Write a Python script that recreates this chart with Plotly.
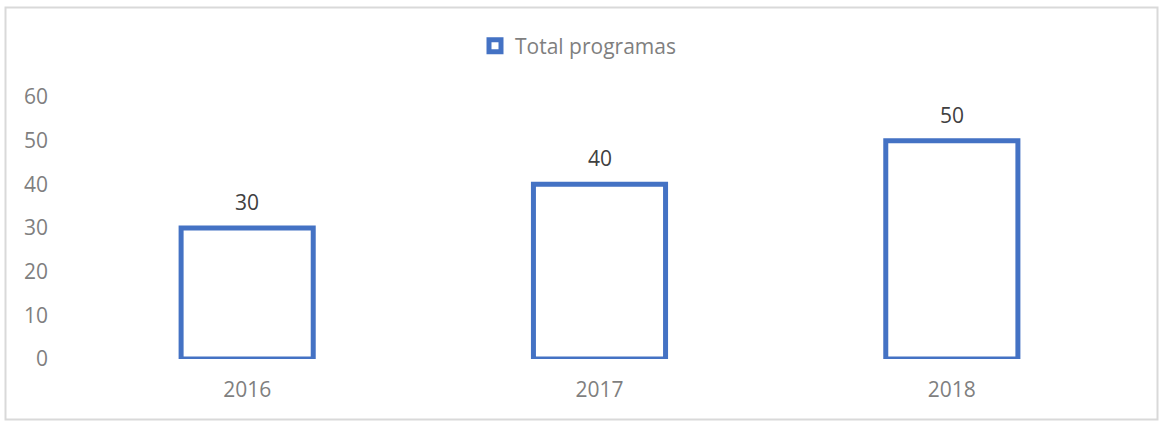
import plotly.graph_objects as go

categories = ["2016", "2017", "2018"]
values = [30, 40, 50]
series_name = "Total programas"

W, H = 1159, 421
L, R, T, B = 71, 31, 97, 62
pw, ph = W - L - R, H - T - B

def px_x(p):
    return (p - L) / pw

def px_y(p):
    return (H - B - p) / ph

FS = 21
GREY = "#7f7f7f"

fig = go.Figure()
fig.add_trace(go.Bar(
    x=categories, y=values, name=series_name,
    marker=dict(color="white", line=dict(color="#4472C4", width=5)),
    width=0.375, showlegend=True,
))

for i, v in enumerate(values):
    fig.add_annotation(x=i, y=v, text=str(v), showarrow=False, yshift=26,
                       font=dict(size=FS, color="#404040", family="Open Sans"))

fig.add_shape(type="rect", xref="paper", yref="paper",
              x0=px_x(5.5), x1=px_x(1157.5), y0=px_y(419.5), y1=px_y(7.5),
              line=dict(color="#d9d9d9", width=2), fillcolor="rgba(0,0,0,0)", layer="below")

fig.update_layout(
    width=W, height=H,
    margin=dict(l=L, r=R, t=T, b=B, autoexpand=False),
    plot_bgcolor="white", paper_bgcolor="white",
    font=dict(family="Open Sans", size=FS, color=GREY),
    showlegend=True,
    legend=dict(orientation="h", x=px_x(475), xanchor="left", y=px_y(46), yanchor="middle",
                font=dict(size=FS, color=GREY), itemwidth=30),
    xaxis=dict(type="category", range=[-0.5, len(categories) - 0.5],
               showgrid=False, showline=False, zeroline=False, ticks="",
               ticklabelstandoff=16, tickfont=dict(size=FS, color=GREY)),
    yaxis=dict(range=[0, 60], dtick=10, showgrid=False, showline=False, zeroline=False,
               ticks="", ticklabelstandoff=22, tickfont=dict(size=FS, color=GREY)),
)

fig.write_html("out.html", config={"displayModeBar": False},
               post_script="document.body.style.margin='0';")
